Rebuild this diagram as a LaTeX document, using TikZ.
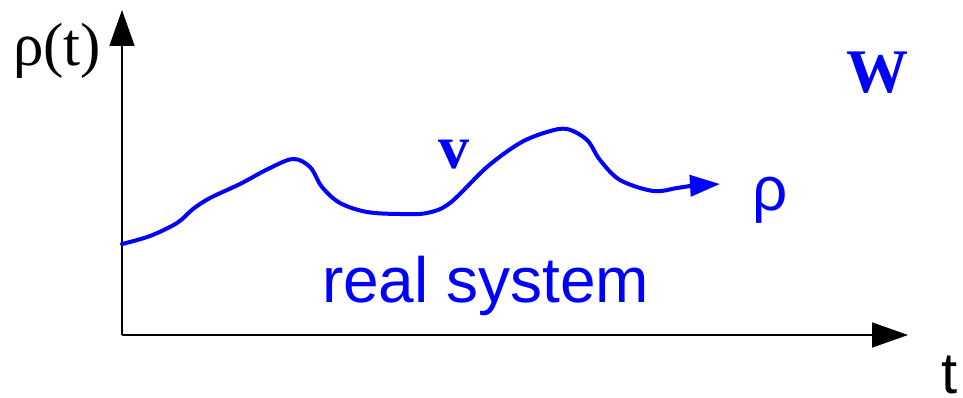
\documentclass[tikz,border=0pt]{standalone}
\usepackage{fontspec}
\setmainfont{Liberation Serif}
\setsansfont{Liberation Sans}
\usetikzlibrary{arrows.meta}

\tikzset{
  lbl/.style={inner sep=0pt,outer sep=0pt,anchor=base west,font=\fontsize{62}{70}\selectfont},
  axis/.style={line width=1.5pt,-{Triangle[length=36pt,width=25pt]}},
  traj/.style={blue,line width=4pt,line cap=round,-{Triangle[length=30pt,width=21pt]}}
}

\begin{document}
\begin{tikzpicture}[x=1pt,y=-1pt]
  \useasboundingbox (0,0) rectangle (963,398);
  % axes
  \coordinate (o) at (122,335);
  \coordinate (ytip) at (122,10);
  \coordinate (xtip) at (908,335);
  \draw[axis] (o)--(ytip);
  \draw[axis] (o)--(xtip);
  \node (rhot) at (13,66) [lbl,font=\fontsize{61}{70}\selectfont]{ρ(t)};
  \node (tlab) at (941,393) [lbl,font=\fontsize{58}{70}\selectfont\sffamily]{t};
  % labels
  \node (W) at (846,93) [lbl,blue,font=\fontsize{62}{70}\selectfont\bfseries]{W};
  \node (v) at (438,169) [lbl,blue,font=\fontsize{62}{70}\selectfont\bfseries]{v};
  \node (rho) at (752,211) [lbl,blue,font=\fontsize{62}{70}\selectfont\sffamily]{ρ};
  \node (rs) at (322,302) [lbl,blue,font=\fontsize{64}{70}\selectfont\sffamily]{real system};
  % trajectory
  \draw[traj] plot[smooth,tension=0.55] coordinates{
    (122,244) (150,236) (177,223) (193,209) (210,198) (240,184)
    (268,169) (293,159) (310,167) (322,187) (340,203) (367,212) (400,214)
    (427,213) (450,203) (487,167) (520,143) (547,132) (567,129) (587,140)
    (600,160) (620,180) (653,191) (677,188) (690,186) (720,184)};
\end{tikzpicture}
\end{document}
